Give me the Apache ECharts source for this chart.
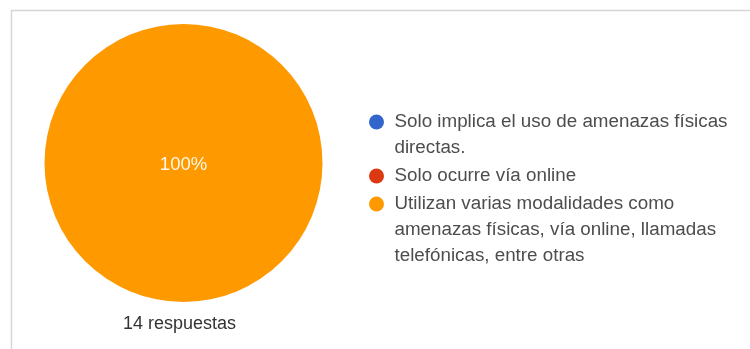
<!DOCTYPE html>
<html>
<head>
<meta charset="utf-8">
<script src="https://cdn.jsdelivr.net/npm/echarts@6/dist/echarts.min.js"></script>
<style>
  html, body { margin: 0; padding: 0; background: #ffffff; }
  #chart { width: 750px; height: 349px; }
</style>
</head>
<body>
<div id="chart"></div>
<script>
// Answer options (as wrapped lines) and response counts
const optionLines = [
  ['Solo implica el uso de amenazas físicas', 'directas.'],
  ['Solo ocurre vía online'],
  ['Utilizan varias modalidades como', 'amenazas físicas, vía online, llamadas', 'telefónicas, entre otras']
];
const categories = optionLines.map(l => l.join(' '));
const counts = [0, 0, 14];
const colors = ['#3366cc', '#dc3912', '#ff9900'];
const responsesLabel = '14 respuestas';

const FONT = '"Liberation Sans", Arial, sans-serif';
const LINE_H = 26;
// vertical centre of each entry's first line
const firstLineY = [122, 176, 204];

const chart = echarts.init(document.getElementById('chart'), null, { renderer: 'canvas' });

// one legend per entry so multi-line entries keep the dot beside the first line
const legends = categories.map((name, i) => {
  const n = optionLines[i].length;
  const total = 2 * n - 1;
  return {
    orient: 'vertical',
    left: 369,
    top: firstLineY[i] - (total * LINE_H) / 2,
    padding: 0,
    itemWidth: 26,
    itemHeight: 15,
    icon: 'circle',
    selectedMode: false,
    data: [name],
    formatter: () => '\n'.repeat(n - 1) + optionLines[i].join('\n'),
    textStyle: {
      fontFamily: FONT,
      fontSize: 18.8,
      color: '#4d4d4d',
      lineHeight: LINE_H
    }
  };
});

chart.setOption({
  animation: false,
  color: colors,
  title: {
    text: responsesLabel,
    left: 123,
    top: 315,
    padding: 0,
    textStyle: {
      fontFamily: FONT,
      fontSize: 18,
      fontWeight: 'normal',
      color: '#333333'
    }
  },
  legend: legends,
  graphic: [
    { type: 'line', shape: { x1: 11, y1: 10.5, x2: 750, y2: 10.5 }, style: { stroke: '#d6d6d6', lineWidth: 1.5 }, silent: true },
    { type: 'line', shape: { x1: 11.5, y1: 10, x2: 11.5, y2: 349 }, style: { stroke: '#d6d6d6', lineWidth: 1.5 }, silent: true }
  ],
  series: [{
    type: 'pie',
    center: [183.5, 163],
    radius: [0, 139],
    startAngle: 90,
    clockwise: true,
    avoidLabelOverlap: false,
    labelLine: { show: false },
    label: {
      show: true,
      position: 'center',
      offset: [0, 2],
      formatter: p => (p.value > 0 ? Math.round(p.percent) + '%' : ''),
      color: '#fff8e8',
      fontFamily: FONT,
      fontSize: 18.5
    },
    emphasis: { disabled: true },
    itemStyle: { borderWidth: 0 },
    data: categories.map((name, i) => ({ name, value: counts[i] }))
  }]
});
</script>
</body>
</html>
